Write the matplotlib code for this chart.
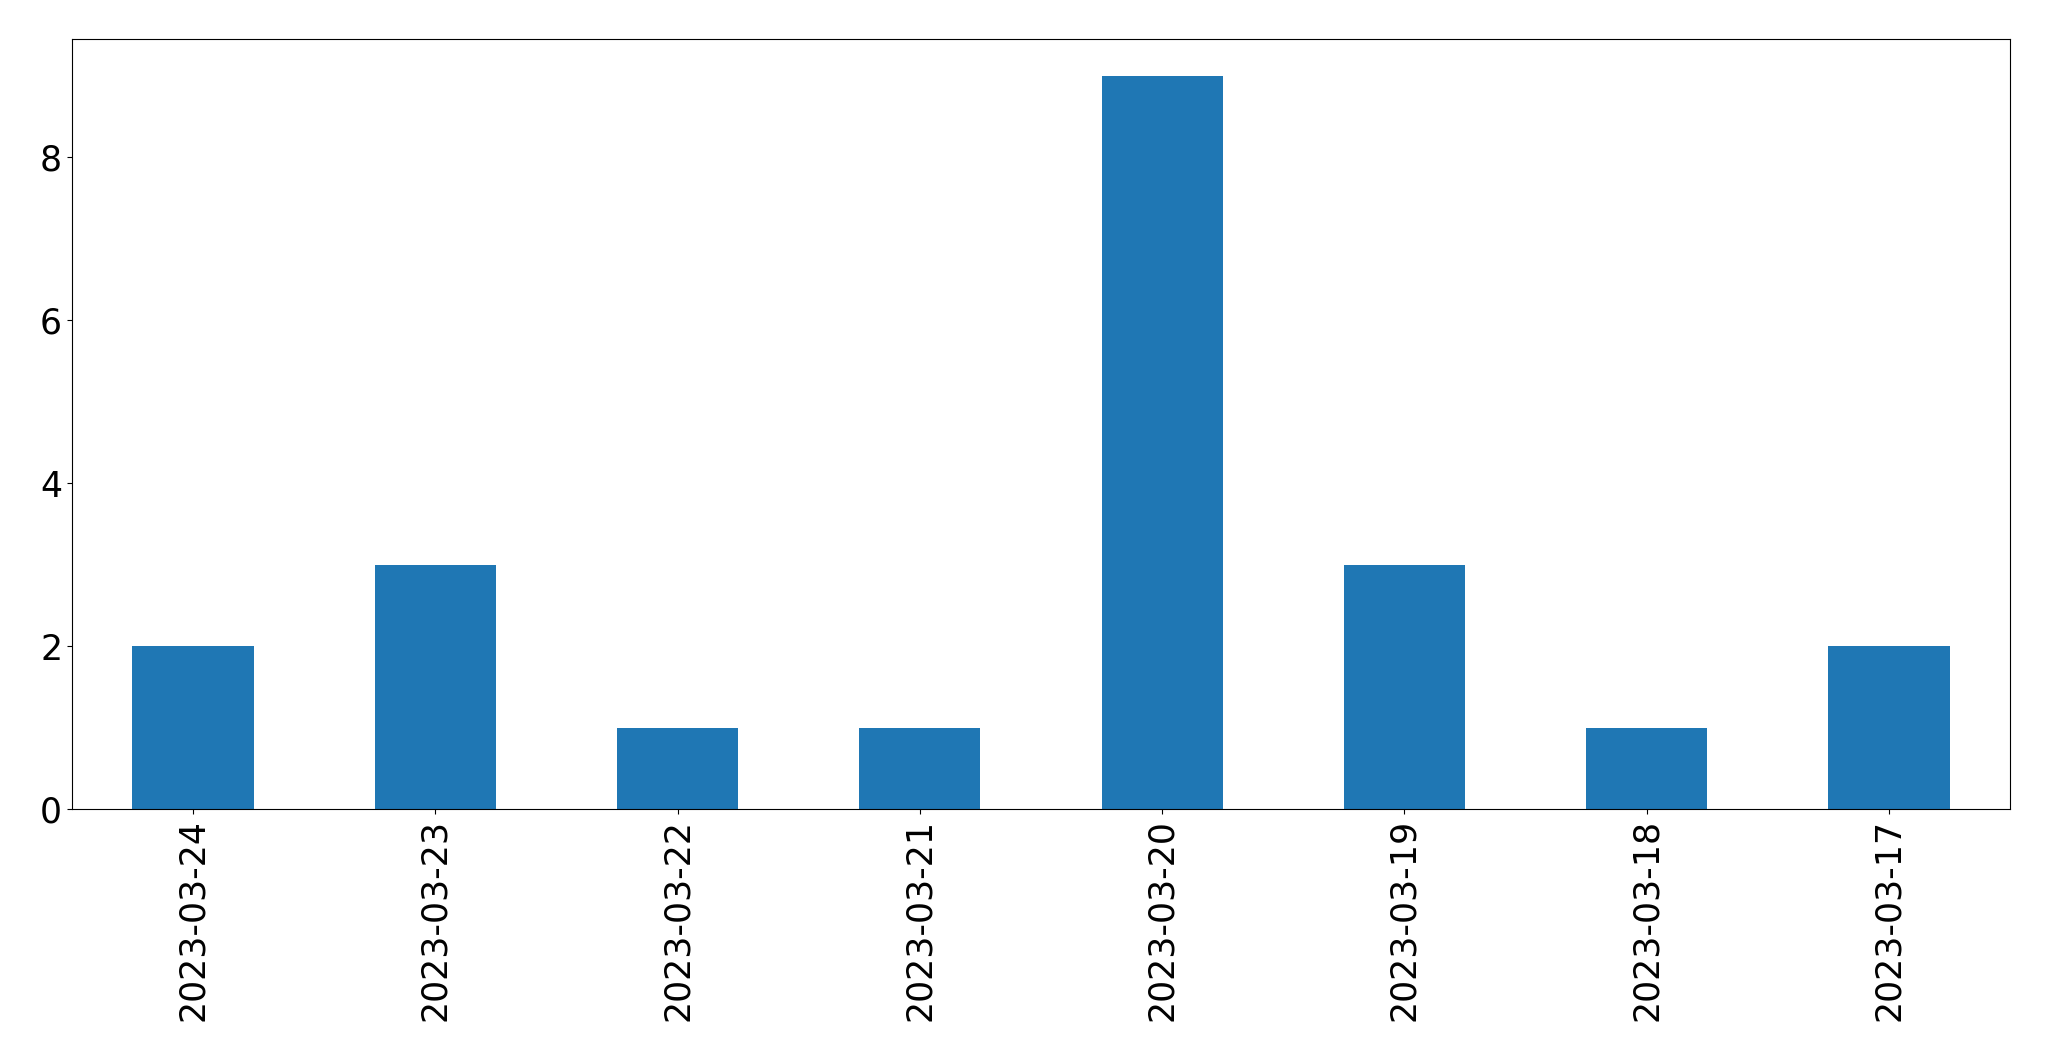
import pandas as pd
import matplotlib
matplotlib.use("Agg")
import matplotlib.pyplot as plt

# daily counts, newest first
dates = ["2023-03-24", "2023-03-23", "2023-03-22", "2023-03-21",
         "2023-03-20", "2023-03-19", "2023-03-18", "2023-03-17"]
counts = [2, 3, 1, 1, 9, 3, 1, 2]

data = pd.Series(counts, index=dates)

fig, ax = plt.subplots(figsize=(20.49, 10.61), dpi=100)
data.plot(kind="bar", ax=ax, color="#1f77b4", fontsize=25)
ax.tick_params(axis="x", labelrotation=90)
fig.subplots_adjust(left=0.0351, right=0.981, top=0.963, bottom=0.2375)
fig.savefig("out.png", dpi=100)
